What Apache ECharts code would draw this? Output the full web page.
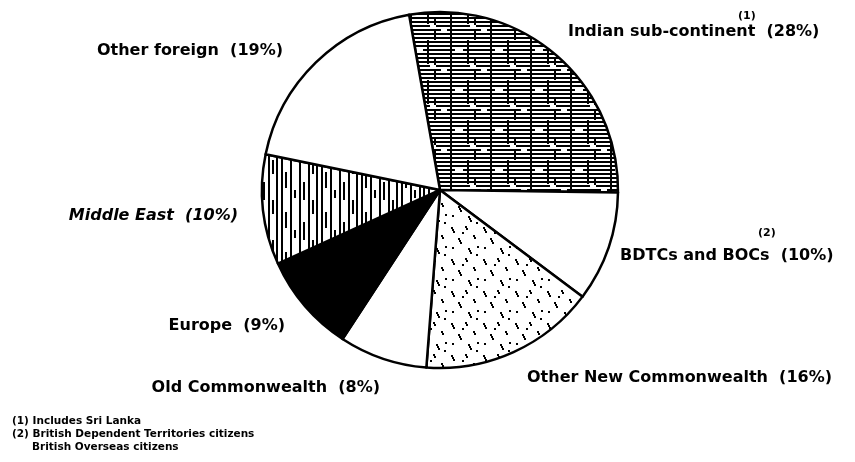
<!DOCTYPE html>
<html><head><meta charset="utf-8">
<script src="https://cdn.jsdelivr.net/npm/echarts@6/dist/echarts.min.js"></script>
<style>html,body{margin:0;padding:0;background:#fff}#c{width:855px;height:462px}</style>
</head><body><div id="c"></div>
<script>
const categories = ['Indian sub-continent','BDTCs and BOCs','Other New Commonwealth','Old Commonwealth','Europe','Middle East','Other foreign'];
const shares = [28, 10, 16, 8, 9, 10, 19];
const noteMarks = ['(1)', '(2)', '', '', '', '', ''];
const footnotes = ['(1) Includes Sri Lanka', '(2) British Dependent Territories citizens', 'British Overseas citizens'];

function makeCanvas(w, h, draw) {
  const c = document.createElement('canvas');
  c.width = w; c.height = h;
  const g = c.getContext('2d');
  g.fillStyle = '#fff'; g.fillRect(0, 0, w, h);
  g.fillStyle = '#000';
  draw(g);
  return c;
}
const brick = makeCanvas(40, 40, g => {
  for (let y = 1; y < 40; y += 4) g.fillRect(0, y, 40, 2);
  g.fillRect(10, 0, 2, 40); g.fillRect(27, 0, 2, 24); g.fillRect(34, 18, 2, 22);
  g.fillStyle = '#fff';
  g.fillRect(15, 8, 8, 4); g.fillRect(30, 25, 6, 4); g.fillRect(1, 29, 6, 2);
});
const stripes = makeCanvas(40, 40, g => {
  [1, 10, 19, 28, 36].forEach(x => g.fillRect(x, 0, 2, 40));
  g.fillRect(5, 12, 2, 16); g.fillRect(23, 22, 2, 18); g.fillRect(32, 0, 2, 14); g.fillRect(14, 30, 2, 8);
});
const stipple = makeCanvas(32, 32, g => {
  const pts = [[3,3],[4,5],[5,7],[17,2],[18,4],[10,14],[11,16],[12,18],[25,11],[26,13],[20,24],[21,26],[22,28],[4,23],[29,22],[14,8],[28,30]];
  pts.forEach(p => g.fillRect(p[0], p[1], 2, 2));
});
const fills = [
  { image: brick, repeat: 'repeat' }, '#ffffff', { image: stipple, repeat: 'repeat' },
  '#ffffff', '#000000', { image: stripes, repeat: 'repeat' }, '#ffffff'
];
const labelSpots = [
  { x: 568, y: 32, align: 'left' }, { x: 620, y: 256, align: 'left' }, { x: 527, y: 378, align: 'left' },
  { x: 380, y: 388, align: 'right' }, { x: 285, y: 326, align: 'right' }, { x: 238, y: 216, align: 'right' },
  { x: 283, y: 51, align: 'right' }
];
const noteSpots = [{ x: 738, y: 11 }, { x: 758, y: 228 }];
const FONT = '"DejaVu Sans", "Liberation Sans", Arial, sans-serif';

const chart = echarts.init(document.getElementById('c'), null, { renderer: 'canvas' });
chart.setOption({
  backgroundColor: '#fff',
  animation: false,
  series: [{
    type: 'pie',
    center: [440, 190],
    radius: [0, 178],
    startAngle: 100,
    clockwise: true,
    data: categories.map((n, i) => ({
      name: n, value: shares[i],
      itemStyle: { color: fills[i] },
      label: { fontStyle: i === 5 ? 'italic' : 'normal' }
    })),
    itemStyle: { borderColor: '#000', borderWidth: 2.5 },
    labelLine: { show: false },
    label: {
      show: true,
      position: 'outside',
      overflow: 'none',
      color: '#000',
      fontFamily: FONT,
      fontWeight: 'bold',
      fontSize: 16,
      formatter: p => p.name + '  (' + p.value + '%)'
    },
    labelLayout: p => {
      const s = labelSpots[p.dataIndex];
      return { x: s.x, y: s.y, align: s.align, verticalAlign: 'middle' };
    }
  }],
  graphic: footnotes.map((t, i) => ({
    type: 'text', left: i === 2 ? 32 : 12, top: 416 + i * 13,
    style: { text: t, fontSize: 10.5, fontWeight: 'bold', fontFamily: FONT, fill: '#000' }
  })).concat(noteMarks.filter(m => m).map((m, i) => ({
    type: 'text', left: noteSpots[i].x, top: noteSpots[i].y,
    style: { text: m, fontSize: 11, fontWeight: 'bold', fontFamily: FONT, fill: '#000' }
  })))
});
</script></body></html>
